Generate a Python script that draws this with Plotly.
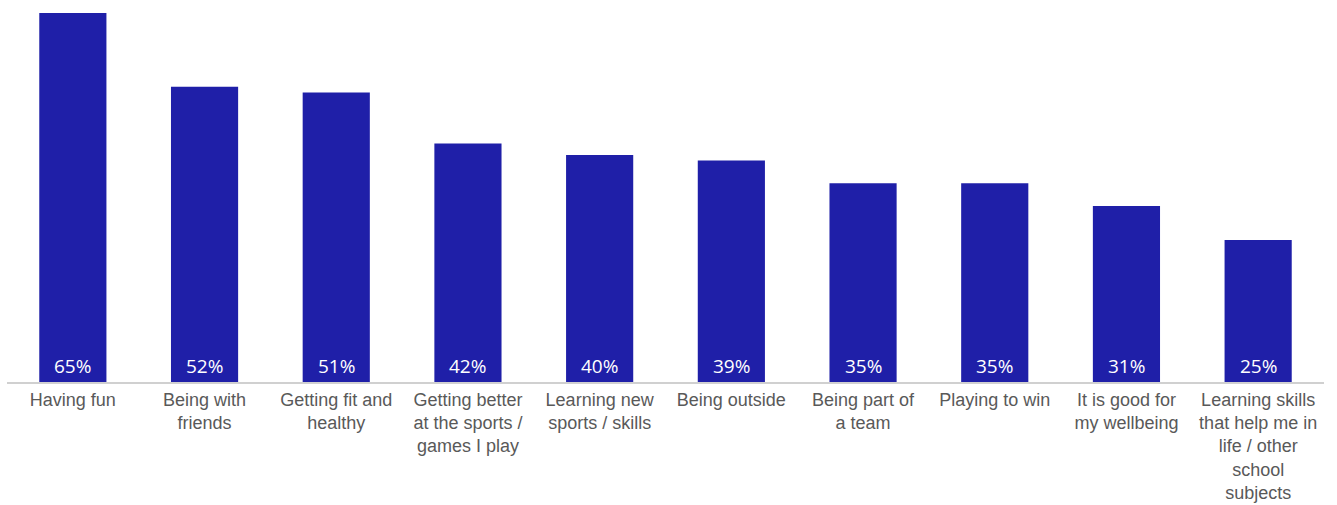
import plotly.graph_objects as go

# Survey responses: reasons for taking part in sport
categories = [
    "Having fun",
    "Being with<br>friends",
    "Getting fit and<br>healthy",
    "Getting better<br>at the sports /<br>games I play",
    "Learning new<br>sports / skills",
    "Being outside",
    "Being part of<br>a team",
    "Playing to win",
    "It is good for<br>my wellbeing",
    "Learning skills<br>that help me in<br>life / other<br>school<br>subjects",
]
values = [65, 52, 51, 42, 40, 39, 35, 35, 31, 25]

bar_color = "#1f1fa8"

fig = go.Figure(
    go.Bar(
        x=categories,
        y=values,
        marker=dict(color=bar_color, line=dict(width=0)),
        hoverinfo="skip",
    )
)

# Percentage labels sitting at the foot of each bar
for cat, val in zip(categories, values):
    fig.add_annotation(
        x=cat, y=0, text=f"{val}%",
        showarrow=False, yanchor="bottom", yshift=1,
        font=dict(family="Open Sans", size=19, color="white"),
    )

fig.update_layout(
    width=1337, height=505,
    margin=dict(l=7, r=13, t=13, b=123),
    paper_bgcolor="white", plot_bgcolor="white",
    bargap=0.49,
    showlegend=False,
    xaxis=dict(
        showline=True, linecolor="#d0d0d0", linewidth=2,
        showgrid=False, ticks="", automargin=False,
        tickfont=dict(family="Liberation Sans", size=18, color="#595959"),
        tickangle=0,
    ),
    yaxis=dict(
        range=[0, 65], visible=False, showgrid=False, zeroline=False,
        automargin=False,
    ),
)

fig.write_html("out.html")
